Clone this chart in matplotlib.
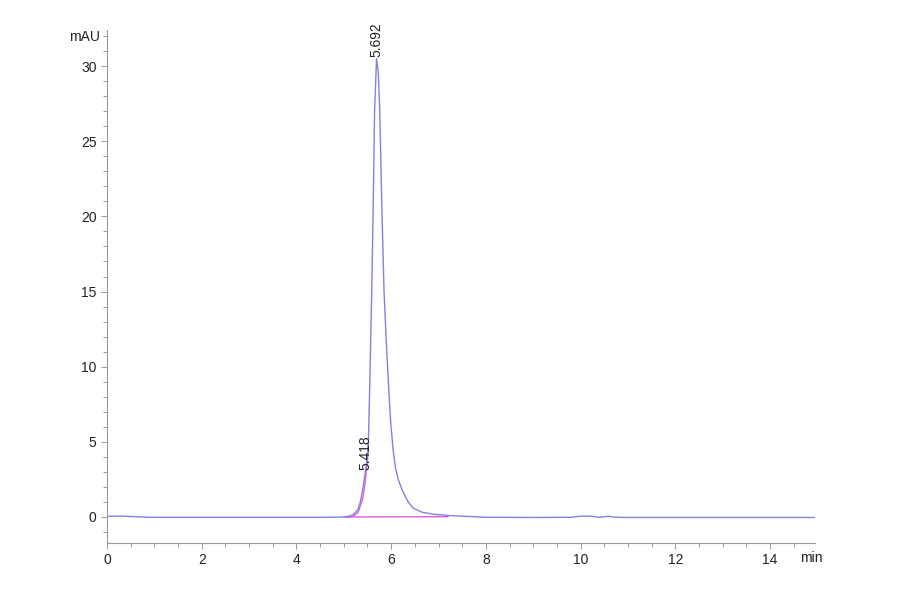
import matplotlib
matplotlib.use("Agg")
import matplotlib.pyplot as plt
from matplotlib.ticker import MultipleLocator

# chromatogram trace (min, mAU)
time = [0.0, 0.3, 0.6, 0.9, 1.5, 2.5, 3.5, 4.5, 4.9, 5.0, 5.1, 5.2, 5.3, 5.35,
        5.41, 5.45, 5.5, 5.52, 5.55, 5.59, 5.62, 5.65, 5.692, 5.73, 5.76,
        5.80, 5.85, 5.90, 5.95, 5.99, 6.04, 6.09, 6.15, 6.23, 6.35, 6.46,
        6.65, 6.9, 7.2, 7.6, 8.0, 9.0, 9.8, 10.0, 10.2, 10.4, 10.6, 10.7,
        10.9, 12.0, 13.0, 14.0, 14.95]
signal = [0.05, 0.06, 0.02, -0.02, -0.02, -0.02, -0.02, -0.02, -0.01, 0.0,
          0.05, 0.15, 0.5, 1.0, 2.0, 2.9, 4.0, 5.0, 9.0, 15.0, 20.5, 27.0,
          30.5, 29.5, 27.0, 21.0, 15.0, 11.5, 8.5, 6.3, 4.5, 3.3, 2.5, 1.8,
          1.05, 0.6, 0.32, 0.18, 0.1, 0.04, -0.02, -0.03, -0.02, 0.05, 0.06,
          -0.02, 0.05, -0.01, -0.03, -0.03, -0.03, -0.03, -0.03]

# integration overlay (magenta)
fit_time = [5.1, 5.2, 5.3, 5.4, 5.45, 5.5, 5.52]
fit_signal = [0.0, 0.05, 0.3, 1.2, 2.3, 3.8, 4.8]
base_time = [5.0, 7.2]
base_signal = [0.0, 0.02]

peak_rt = [5.45, 5.692]
peak_lbl = ["5.418", "5.692"]
peak_lbl_y = [3.1, 30.6]

blue = "#8282de"
magenta = "#e05ce0"
grey = "#9a9a9a"

plt.rcParams["font.family"] = ["Liberation Sans Narrow", "Liberation Sans", "DejaVu Sans"]

fig = plt.figure(figsize=(9, 5.94), dpi=100)
ax = fig.add_axes([107 / 900, 1 - 543 / 594, 708 / 900, 513 / 594])

ax.plot(base_time, base_signal, color=magenta, lw=1.0)
ax.plot(fit_time, fit_signal, color=magenta, lw=1.0)
ax.plot(time, signal, color=blue, lw=1.0)

for rt, lbl, ly in zip(peak_rt, peak_lbl, peak_lbl_y):
    ax.text(rt, ly, lbl, rotation=90, ha="center", va="bottom",
            fontsize=10, color="#222222")

ax.set_xlim(0, 14.95)
ax.set_ylim(-1.73, 32.4)

ax.xaxis.set_major_locator(MultipleLocator(2))
ax.xaxis.set_minor_locator(MultipleLocator(0.5))
ax.yaxis.set_major_locator(MultipleLocator(5))
ax.yaxis.set_minor_locator(MultipleLocator(1))

for s in ["top", "right"]:
    ax.spines[s].set_visible(False)
for s in ["left", "bottom"]:
    ax.spines[s].set_color(grey)
    ax.spines[s].set_linewidth(0.8)

ax.tick_params(which="both", colors=grey, labelcolor="#222222", labelsize=10,
               width=0.7)
ax.tick_params(which="major", length=4)
ax.tick_params(which="minor", length=3)

ax.text(-0.01, 1.0, "mAU", transform=ax.transAxes, ha="right", va="top",
        fontsize=10, color="#222222")
fig.text(800 / 900, 1 - 558 / 594, "min", ha="left", va="center",
         fontsize=10, color="#222222")

fig.savefig("out.png", dpi=100)
